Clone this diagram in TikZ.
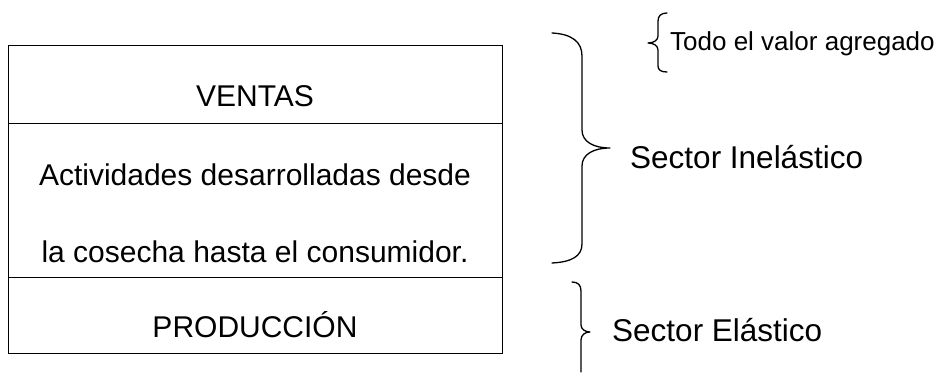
\documentclass[tikz,border=0pt]{standalone}
\usepackage{fontspec}
\setmainfont{Liberation Sans}
\begin{document}
\begin{tikzpicture}[x=1pt,y=-1pt,
  cell/.style={draw=black,line width=1.2pt,minimum width=494pt,inner sep=0pt,anchor=north west},
  big/.style={font=\fontsize{30}{36}\selectfont,anchor=base,inner sep=0pt},
  side/.style={font=\fontsize{31.5}{36}\selectfont,anchor=base west,inner sep=0pt},
  small/.style={font=\fontsize{26}{30}\selectfont,anchor=base west,inner sep=0pt},
  bracepath/.style={draw=black,line width=1.3pt,line cap=round,line join=round}]
\useasboundingbox (0,0) rectangle (945,374);
\fill[white] (0,0) rectangle (945,374);
% box cells
\node[cell,minimum height=78pt] (ventas) at (8,45) {};
\node[cell,minimum height=154pt] (activ) at (8,123) {};
\node[cell,minimum height=76pt] (prod) at (8,277) {};
% texts
\node[big] (tv) at (255,107) {VENTAS};
\node[big] (ta) at (255,186) {Actividades desarrolladas desde};
\node[big] (tb) at (255,262) {la cosecha hasta el consumidor.};
\node[big] (tp) at (255,337) {PRODUCCIÓN};
\node[side] (si) at (630,169) {Sector Inelástico};
\node[side] (se) at (612,341) {Sector Elástico};
\node[small] (tt) at (670,51) {Todo el valor agregado};
% big brace
\draw[bracepath] (552,33) .. controls (572,34) and (582,42) .. (582,56)
  -- (582,130) .. controls (582,142) and (594,148) .. (610,148)
  .. controls (594,148) and (582,154) .. (582,166)
  -- (582,244) .. controls (582,256) and (572,262) .. (552,263);
% small brace
\draw[bracepath] (667,13) .. controls (661,13) and (658,16) .. (658,21)
  -- (658,36) .. controls (658,40) and (654,43) .. (648,43)
  .. controls (654,43) and (658,46) .. (658,50)
  -- (658,66) .. controls (658,70) and (661,72) .. (667,72);
% lower brace
\draw[bracepath] (572,282) .. controls (578,282) and (581,285) .. (581,291)
  -- (581,325) .. controls (581,329) and (585,332) .. (590,332)
  .. controls (585,332) and (581,335) .. (581,340)
  -- (581,372);
\end{tikzpicture}
\end{document}
